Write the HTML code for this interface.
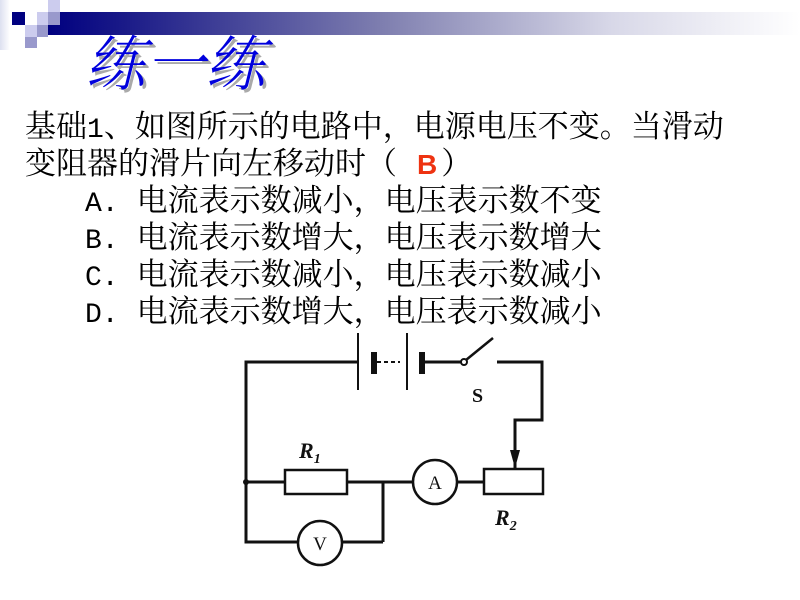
<!DOCTYPE html>
<html><head><meta charset="utf-8"><style>
html,body{margin:0;padding:0;background:#fff;}
body{width:800px;height:600px;position:relative;overflow:hidden;}
.sq{position:absolute;}
.t{position:absolute;font-size:31px;line-height:36px;white-space:nowrap;color:#000;font-family:"Noto Serif CJK SC","Liberation Serif",serif;}
.m{font-family:"Liberation Mono",monospace;font-size:28px;}
</style></head><body>
<div class="sq" style="left:0;top:0;width:10px;height:50px;background:linear-gradient(90deg,#dde0f0,#fff)"></div>
<div class="sq" style="left:48px;top:12px;width:752px;height:23px;background:linear-gradient(90deg,#000080 0%,#1a1a88 10%,#8080b0 45%,#d8d8e8 75%,#fff 100%)"></div>
<div class="sq" style="left:12px;top:12px;width:13px;height:13px;background:#000080"></div>
<div class="sq" style="left:37px;top:12px;width:11px;height:13px;background:#ccccee"></div>
<div class="sq" style="left:48px;top:0px;width:12px;height:12px;background:#ccccee"></div>
<div class="sq" style="left:48px;top:12px;width:12px;height:13px;background:#9999cc"></div>
<div class="sq" style="left:25px;top:25px;width:12px;height:12px;background:#ccccee"></div>
<div class="sq" style="left:37px;top:25px;width:11px;height:12px;background:#9999cc"></div>
<div class="sq" style="left:25px;top:37px;width:12px;height:11px;background:#9999cc"></div>

<div style="position:absolute;left:88px;top:30px;font-size:60px;line-height:66px;color:#aaa;font-family:'Noto Serif CJK SC',serif;font-weight:300;font-style:italic;">练一练</div>
<div style="position:absolute;left:85px;top:27px;font-size:60px;line-height:66px;color:#0000dd;font-family:'Noto Serif CJK SC',serif;font-weight:300;font-style:italic;">练一练</div>

<div class="t" style="left:25px;top:106px">基础<span class="m">1</span>、如图所示的电路中，电源电压不变。当滑动</div>
<div class="t" style="left:25px;top:143px">变阻器的滑片向左移动时（<span style="display:inline-block;width:20px"></span><span style="color:#ee3311;font-family:'Liberation Sans',sans-serif;font-weight:bold;font-size:28px">B</span><span style="display:inline-block;width:4px"></span>）</div>
<div class="t" style="left:85px;top:180px"><span class="m">A.</span><span style="display:inline-block;width:18px"></span>电流表示数减小，电压表示数不变</div>
<div class="t" style="left:85px;top:217px"><span class="m">B.</span><span style="display:inline-block;width:18px"></span>电流表示数增大，电压表示数增大</div>
<div class="t" style="left:85px;top:254px"><span class="m">C.</span><span style="display:inline-block;width:18px"></span>电流表示数减小，电压表示数减小</div>
<div class="t" style="left:85px;top:291px"><span class="m">D.</span><span style="display:inline-block;width:18px"></span>电流表示数增大，电压表示数减小</div>

<svg style="position:absolute;left:0;top:0" width="800" height="600" fill="none" stroke="#111" stroke-width="3">
<polyline points="358,362 246,362 246,542 297,542"/>
<line x1="343" y1="542" x2="383" y2="542"/>
<polyline points="383,542 383,482"/>
<line x1="246" y1="482" x2="285" y2="482"/>
<line x1="347" y1="482" x2="412" y2="482"/>
<line x1="458" y1="482" x2="483" y2="482"/>
<rect x="285" y="470" width="62" height="24" stroke-width="2.5"/>
<rect x="484" y="469" width="59" height="25" stroke-width="2.5"/>
<circle cx="435" cy="482" r="22" stroke-width="2.5"/>
<circle cx="320" cy="543" r="22" stroke-width="2.5"/>
<line x1="358" y1="333" x2="358" y2="390" stroke-width="2"/>
<rect x="371" y="352" width="6" height="22" fill="#111" stroke="none"/>
<line x1="377" y1="362" x2="400" y2="362" stroke-width="2" stroke-dasharray="4,3"/>
<line x1="407" y1="333" x2="407" y2="390" stroke-width="2"/>
<rect x="419" y="352" width="6" height="22" fill="#111" stroke="none"/>
<line x1="425" y1="362" x2="461" y2="362"/>
<circle cx="464" cy="362" r="3" stroke-width="2"/>
<line x1="466" y1="360" x2="493" y2="338" stroke-width="2.5"/>
<polyline points="497,362 542,362 542,420 515,420 515,468"/>
<polygon points="510,450 520,450 515,468" fill="#111" stroke="none"/>
<circle cx="246" cy="482" r="3" fill="#111" stroke="none"/>
<text x="472" y="402" font-family="Liberation Serif,serif" font-size="20" font-weight="bold" fill="#111" stroke="none">S</text>
<text x="299" y="458" font-family="Liberation Serif,serif" font-size="22" font-style="italic" font-weight="bold" fill="#111" stroke="none">R<tspan font-size="14" dy="5">1</tspan></text>
<text x="495" y="525" font-family="Liberation Serif,serif" font-size="22" font-style="italic" font-weight="bold" fill="#111" stroke="none">R<tspan font-size="14" dy="5">2</tspan></text>
<text x="435" y="489" text-anchor="middle" font-family="Liberation Serif,serif" font-size="19" fill="#111" stroke="none">A</text>
<text x="320" y="550" text-anchor="middle" font-family="Liberation Serif,serif" font-size="19" fill="#111" stroke="none">V</text>
</svg>
</body></html>
